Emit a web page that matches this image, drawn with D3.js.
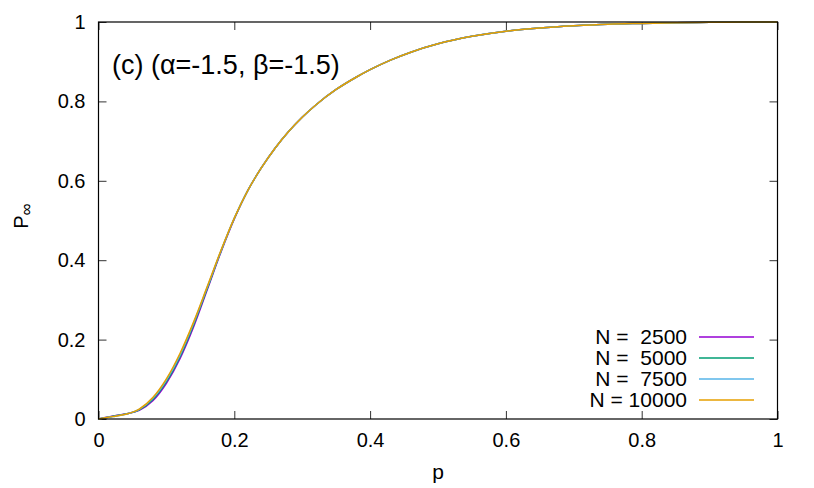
<!DOCTYPE html>
<html>
<head>
<meta charset="utf-8">
<script src="https://cdn.jsdelivr.net/npm/d3@7"></script>
<style>
  body { margin: 0; background: #fff; }
  svg { font-family: "Liberation Sans", Arial, Helvetica, sans-serif; }
</style>
</head>
<body>
<svg id="chart"></svg>
<script>
const pValues = [0, 0.02, 0.04, 0.06, 0.08, 0.10, 0.12, 0.14, 0.16, 0.18, 0.20, 0.22, 0.24, 0.26, 0.28, 0.30, 0.32, 0.35, 0.38, 0.40, 0.43, 0.46, 0.50, 0.55, 0.60, 0.65, 0.70, 0.75, 0.80, 0.85, 0.90, 0.95, 1.0];
const n2500  = [0, 0.007, 0.013, 0.022, 0.046, 0.090, 0.152, 0.232, 0.325, 0.419, 0.504, 0.576, 0.633, 0.682, 0.724, 0.760, 0.791, 0.830, 0.8615, 0.880, 0.904, 0.924, 0.945, 0.964, 0.977, 0.985, 0.9905, 0.9945, 0.9965, 0.9982, 0.9992, 0.9997, 1.0];
const n5000  = [0, 0.0065, 0.0125, 0.023, 0.049, 0.094, 0.157, 0.237, 0.328, 0.421, 0.505, 0.576, 0.633, 0.682, 0.724, 0.760, 0.791, 0.830, 0.8615, 0.880, 0.904, 0.924, 0.945, 0.964, 0.977, 0.985, 0.9905, 0.9945, 0.9965, 0.9982, 0.9992, 0.9997, 1.0];
const n7500  = [0, 0.006, 0.012, 0.024, 0.052, 0.098, 0.161, 0.241, 0.331, 0.422, 0.506, 0.576, 0.633, 0.682, 0.724, 0.760, 0.791, 0.830, 0.8615, 0.880, 0.904, 0.924, 0.945, 0.964, 0.977, 0.985, 0.9905, 0.9945, 0.9965, 0.9982, 0.9992, 0.9997, 1.0];
const n10000 = [0, 0.006, 0.012, 0.025, 0.054, 0.101, 0.165, 0.244, 0.333, 0.423, 0.506, 0.576, 0.633, 0.682, 0.724, 0.760, 0.791, 0.830, 0.8615, 0.880, 0.904, 0.924, 0.945, 0.964, 0.977, 0.985, 0.9905, 0.9945, 0.9965, 0.9982, 0.9992, 0.9997, 1.0];
const seriesLabels = ["N =  2500", "N =  5000", "N =  7500", "N = 10000"];
const seriesColors = ["#9400d3", "#009e73", "#56b4e9", "#e69f00"];
const xTicks = [0, 0.2, 0.4, 0.6, 0.8, 1];
const yTicks = [0, 0.2, 0.4, 0.6, 0.8, 1];
const titleText = "(c) (α=-1.5, β=-1.5)";

const width = 814, height = 488;
const margin = { top: 22, right: 36.5, bottom: 69, left: 98.5 };
const svg = d3.select("#chart").attr("width", width).attr("height", height);

const x = d3.scaleLinear().domain([0, 1]).range([margin.left, width - margin.right]);
const y = d3.scaleLinear().domain([0, 1]).range([height - margin.bottom, margin.top]);

// tick marks on all four sides, pointing inward
const tickLen = 8;
svg.append("g")
    .attr("transform", `translate(0,${y(0)})`)
    .call(d3.axisBottom(x).tickValues(xTicks).tickSize(-tickLen).tickPadding(14).tickFormat(d3.format("")))
    .call(g => g.select(".domain").remove());
svg.append("g")
    .attr("transform", `translate(0,${y(1)})`)
    .call(d3.axisTop(x).tickValues(xTicks).tickSize(-tickLen).tickFormat(""))
    .call(g => g.select(".domain").remove());
svg.append("g")
    .attr("transform", `translate(${x(0)},0)`)
    .call(d3.axisLeft(y).tickValues(yTicks).tickSize(-tickLen).tickPadding(13).tickFormat(d3.format("")))
    .call(g => g.select(".domain").remove());
svg.append("g")
    .attr("transform", `translate(${x(1)},0)`)
    .call(d3.axisRight(y).tickValues(yTicks).tickSize(-tickLen).tickFormat(""))
    .call(g => g.select(".domain").remove());

svg.selectAll(".tick line").attr("stroke", "#333").attr("stroke-width", 1);
svg.selectAll(".tick text").attr("font-size", 20).attr("fill", "#000")
    .attr("font-family", "Liberation Sans, Arial, sans-serif");

// lines
const line = d3.line().x((d, i) => x(pValues[i])).y(d => y(d)).curve(d3.curveMonotoneX);
[n2500, n5000, n7500, n10000].forEach((vals, i) => {
    svg.append("path")
        .datum(vals)
        .attr("fill", "none")
        .attr("stroke", seriesColors[i])
        .attr("stroke-width", 1.5)
        .attr("d", line);
});

// frame
svg.append("rect")
    .attr("x", x(0)).attr("y", y(1))
    .attr("width", x(1) - x(0)).attr("height", y(0) - y(1))
    .attr("fill", "none").attr("stroke", "#000").attr("stroke-width", 1.2);

// legend
const legend = svg.append("g");
seriesLabels.forEach((lab, i) => {
    const cy = 337 + i * 21;
    legend.append("text")
        .attr("x", 687).attr("y", cy).attr("dy", "0.35em")
        .attr("text-anchor", "end").attr("font-size", 21)
        .style("white-space", "pre")
        .text(lab);
    legend.append("line")
        .attr("x1", 699).attr("x2", 754).attr("y1", cy).attr("y2", cy)
        .attr("stroke", seriesColors[i]).attr("stroke-width", 1.5);
});

// title
svg.append("text")
    .attr("x", 112).attr("y", 74)
    .attr("font-size", 27)
    .text(titleText);

// axis labels
svg.append("text")
    .attr("x", x(0.5)).attr("y", 479)
    .attr("text-anchor", "middle").attr("font-size", 21)
    .text("p");

const yl = svg.append("text")
    .attr("transform", `translate(28,216) rotate(-90)`)
    .attr("text-anchor", "middle").attr("font-size", 20);
yl.append("tspan").text("P");
yl.append("tspan").attr("dy", 4).attr("font-size", 17).text("∞");
</script>
</body>
</html>
